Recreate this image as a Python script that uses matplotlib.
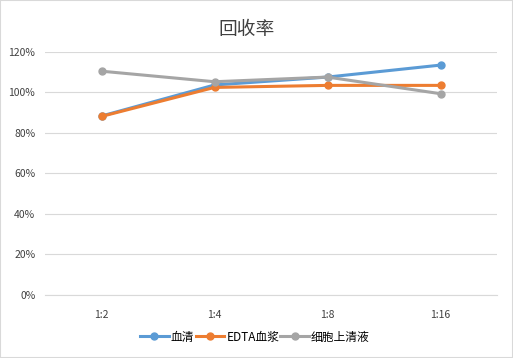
import matplotlib.pyplot as plt
from matplotlib.ticker import PercentFormatter

plt.rcParams['font.family'] = ['Noto Sans CJK SC', 'DejaVu Sans']

categories = ['1:2', '1:4', '1:8', '1:16']
serum = [88.2, 103.5, 107.4, 113.3]
edta_plasma = [88.0, 102.3, 103.3, 103.3]
supernatant = [110.3, 105.1, 107.4, 99.2]
series_names = ['血清', 'EDTA血浆', '细胞上清液']
colors = ['#5B9BD5', '#ED7D31', '#A5A5A5']

fig = plt.figure(figsize=(5.13, 3.58), dpi=100)
ax = fig.add_axes([45 / 513, 1 - 295 / 358, 452 / 513, 243.5 / 358])

x = range(len(categories))
for vals, name, c in zip([serum, edta_plasma, supernatant], series_names, colors):
    ax.plot(x, vals, color=c, lw=2.2, marker='o', ms=5, label=name, zorder=3)

ax.set_xlim(-0.5, len(categories) - 0.5)
ax.set_ylim(0, 120)
ax.set_yticks(range(0, 121, 20))
ax.yaxis.set_major_formatter(PercentFormatter(decimals=0))
ax.set_xticks(list(x))
ax.set_xticklabels(categories)
ax.tick_params(length=0, labelsize=7.5, colors='#404040')
ax.tick_params(axis='x', pad=11)
ax.tick_params(axis='y', pad=7)
ax.grid(axis='y', color='#D9D9D9', lw=0.8)
ax.set_axisbelow(True)
for s in ['top', 'right', 'left']:
    ax.spines[s].set_visible(False)
ax.spines['bottom'].set_color('#D9D9D9')

fig.text(247 / 513, 1 - 30 / 358, '回收率', ha='center', va='center', fontsize=13.5, color='#404040')
fig.legend(loc='center', bbox_to_anchor=(255 / 513, 1 - 337 / 358), ncol=3, frameon=False,
           fontsize=8.5, handlelength=2.4, handletextpad=0.2, columnspacing=0.1)

fig.patches.append(plt.Rectangle((0, 0), 1, 1, transform=fig.transFigure, fill=False,
                                 edgecolor='#D9D9D9', lw=1.5))
fig.savefig('out.png', dpi=100)
